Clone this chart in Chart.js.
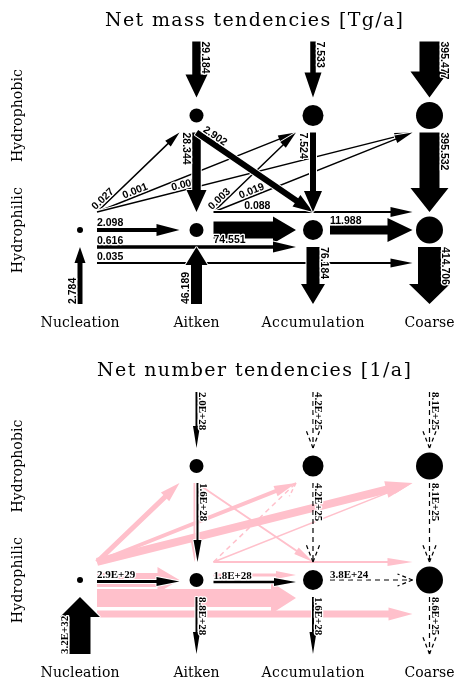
<!DOCTYPE html>
<html><head><meta charset="utf-8">
<script src="https://cdn.jsdelivr.net/npm/chart.js@4.4.1/dist/chart.umd.min.js"></script>
<style>html,body{margin:0;padding:0;background:#fff;overflow:hidden}canvas{display:block}</style>
</head><body>
<canvas id="c1" width="456" height="350" style="width:456px;height:350px"></canvas>
<canvas id="c2" width="456" height="328" style="width:456px;height:328px"></canvas>
<script>
// ---------- data ----------
const columns = ['Nucleation', 'Aitken', 'Accumulation', 'Coarse'];
const rowNames = ['Hydrophilic', 'Hydrophobic'];          // row index 0, 1
const nodeKeys = ['N0', 'K1', 'K0', 'A1', 'A0', 'C1', 'C0'];
const nodeCol  = [0, 1, 1, 2, 2, 3, 3];
const nodeRow  = [0, 1, 0, 1, 0, 1, 0];

const massTitle  = 'Net mass tendencies [Tg/a]';
const massFrom   = ['N0','N0','N0','K0','K0','K0','src','src','src','K1','K1','A1','C1','N0','K0','N0','N0','A0','srcB','srcB','A0','C0'];
const massTo     = ['K1','A1','C1','A1','C1','C0','K1','A1','C1','K0','A0','A0','C0','K0','A0','A0','C0','C0','N0','K0','sink','sink'];
const massValues = [0.027,0.001,0.000,0.003,0.019,0.088,29.184,7.533,395.477,28.344,2.902,7.524,395.532,2.098,74.551,0.616,0.035,11.988,2.784,46.189,76.184,414.706];

const numTitle  = 'Net number tendencies [1/a]';
const numFrom   = ['src','src','src','K1','A1','C1','N0','K0','A0','srcB','K0','A0','C0'];
const numTo     = ['K1','A1','C1','K0','A0','C0','K0','A0','C0','N0','sink','sink','sink'];
const numValues = [2.0e28,4.2e25,8.1e25,1.6e28,4.2e25,8.1e25,2.9e29,1.8e28,3.8e24,3.2e32,8.8e28,1.6e28,8.6e25];

// unlabelled (pink) number fluxes
const pinkFrom = ['N0','N0','N0','N0','N0','N0','K0','K0','K0','K1','K1','K0'];
const pinkTo   = ['A0','C0','K0','K1','A1','C1','A1','C1','C0','A0','K0','A0'];

// ---------- styles ----------
const nodeRadius = [3, 7, 7, 10.5, 10, 13.5, 13.5];
const PINK = '#FFC0CB';
const massStyle = [
  {w:1.5,hw:8,hl:16,t:0},{w:1.5,hw:8,hl:18,t:0.14},{w:1.5,hw:8,hl:18,t:0.24},
  {w:1.5,hw:8,hl:18,t:0},{w:1.5,hw:8,hl:18,t:0.14},{w:2,hw:10,hl:22,off:-18,t:0.154},
  {w:8.5,hw:22,hl:23},{w:5.5,hw:17,hl:25},{w:20,hw:38,hl:26},
  {w:8.5,hw:20,hl:22,side:'b'},{w:6,hw:14,hl:20,t:0.03},{w:6,hw:18,hl:21,side:'b'},{w:20,hw:38,hl:24},
  {w:4,hw:12,hl:23,off:0},{w:17,hw:27,hl:23,off:0,side:'b',gap:-4},{w:3.5,hw:11,hl:23,off:17},{w:2,hw:9,hl:22,off:33},
  {w:9,hw:24,hl:25,off:0},
  {w:5,hw:11,hl:16},{w:11,hw:22,hl:18},{w:13,hw:24,hl:20},{w:23,hw:41,hl:20}
];
const numStyle = [
  {w:2,hw:7,hl:22},{dash:true,hw:14,hl:18},{dash:true,hw:14,hl:18},
  {w:2,hw:8,hl:22,dx:1},{dash:true,hw:14,hl:18},{dash:true,hw:14,hl:18},
  {w:3,hw:9,hl:23,off:1.5},{w:2.5,hw:8,hl:22,off:2},{dash:true,hw:12,hl:15,off:0},
  {w:21,hw:40,hl:20},{w:2,hw:7,hl:22},{w:2,hw:7,hl:22},{dash:true,hw:14,hl:18}
];
const pinkStyle = [
  {w:18,hw:32,hl:25,off:18},{w:7,hw:13,hl:24,off:34},{w:14,hw:26,hl:22,off:0},
  {w:5,hw:12,hl:20},{w:4,hw:11,hl:22},{w:8,hw:17,hl:27},
  {dash:true,lw:1.5,hw:10,hl:14},{w:1.5,hw:7,hl:20},{w:2,hw:8,hl:25,off:-18},
  {w:2,hw:8,hl:20},{w:2,hw:7,hl:20,dx:-2},{w:3,hw:8,hl:20,off:-5}
];

// ---------- drawing helpers ----------
function nodePix(chart, key) {
  const i = nodeKeys.indexOf(key);
  return [chart.scales.x.getPixelForValue(nodeCol[i]), chart.scales.y.getPixelForValue(nodeRow[i])];
}
function endpoints(chart, from, to, st) {
  const off = st.off || 0, dx = st.dx || 0;
  if (from === 'src')  { const [x,y] = nodePix(chart,to);   return [x+dx, y-74, x+dx, y-18]; }
  if (from === 'srcB') { const [x,y] = nodePix(chart,to);   return [x+dx, y+74, x+dx, y+17]; }
  if (to === 'sink')   { const [x,y] = nodePix(chart,from); return [x+dx, y+17, x+dx, y+74]; }
  const [sx,sy] = nodePix(chart,from), [tx,ty] = nodePix(chart,to);
  const sr = nodeRow[nodeKeys.indexOf(from)], tr = nodeRow[nodeKeys.indexOf(to)];
  if (sr === 1 && tr === 0) return [sx+dx, sy+17, tx+dx, ty-18];
  if (sr === 0 && tr === 1) return [sx+17, sy-18, tx-17, ty+17];
  return [sx+17, sy+off, tx-17, ty+off];
}
function drawArrow(ctx, p, st, color, halo) {
  const [x0,y0,x1,y1] = p;
  const dxl = x1-x0, dyl = y1-y0, len = Math.hypot(dxl,dyl);
  const ux = dxl/len, uy = dyl/len, nx = -uy, ny = ux;
  const hl = Math.min(st.hl, len*0.7);
  const bx = x1-ux*hl, by = y1-uy*hl;
  ctx.save();
  if (st.dash) {
    ctx.strokeStyle = color; ctx.lineWidth = st.lw || 1.2;
    ctx.setLineDash([5,4]);
    ctx.beginPath(); ctx.moveTo(x0,y0); ctx.lineTo(x1,y1); ctx.stroke();
    const hw = st.hw/2;
    ctx.setLineDash([4,3]);
    ctx.beginPath(); ctx.moveTo(x1,y1); ctx.lineTo(bx+nx*hw, by+ny*hw); ctx.stroke();
    ctx.beginPath(); ctx.moveTo(x1,y1); ctx.lineTo(bx-nx*hw, by-ny*hw); ctx.stroke();
  } else {
    const w = st.w/2, hw = st.hw/2;
    ctx.beginPath();
    ctx.moveTo(x0+nx*w, y0+ny*w);
    ctx.lineTo(bx+nx*w, by+ny*w);
    ctx.lineTo(bx+nx*hw, by+ny*hw);
    ctx.lineTo(x1, y1);
    ctx.lineTo(bx-nx*hw, by-ny*hw);
    ctx.lineTo(bx-nx*w, by-ny*w);
    ctx.lineTo(x0-nx*w, y0-ny*w);
    ctx.closePath();
    if (halo) { ctx.strokeStyle = '#fff'; ctx.lineWidth = 2; ctx.lineJoin = 'bevel'; ctx.stroke(); }
    ctx.fillStyle = color; ctx.fill();
  }
  ctx.restore();
}
function drawLabel(ctx, p, st, text, font) {
  const [x0,y0,x1,y1] = p;
  const dxl = x1-x0, dyl = y1-y0, len = Math.hypot(dxl,dyl);
  const ux = dxl/len, uy = dyl/len, ang = Math.atan2(dyl,dxl);
  const above = (st.side || 'a') === 'a';
  const gap = (st.dash ? 0.6 : st.w/2) + (st.gap !== undefined ? st.gap : 1.5);
  const t = st.t || 0;
  const upx = Math.sin(ang), upy = -Math.cos(ang), s = above ? 1 : -1;
  ctx.save();
  ctx.translate(x0+ux*len*t + upx*gap*s, y0+uy*len*t + upy*gap*s);
  ctx.rotate(ang);
  ctx.font = font; ctx.textAlign = 'left';
  ctx.textBaseline = above ? 'alphabetic' : 'top';
  ctx.lineJoin = 'round'; ctx.lineWidth = 2.5; ctx.strokeStyle = '#fff';
  ctx.strokeText(text, 0, 0);
  ctx.fillStyle = '#000'; ctx.fillText(text, 0, 0);
  ctx.restore();
}
function fitText(ctx, text, x, y, font, width, rot) {
  ctx.save();
  ctx.font = font; ctx.letterSpacing = '0px';
  const m = ctx.measureText(text).width;
  const ls = (width - m) / (text.length - 1);
  ctx.letterSpacing = ls + 'px';
  ctx.translate(x + (rot ? 0 : ls/2), y + (rot ? ls/2 : 0));
  if (rot) ctx.rotate(rot);
  ctx.textAlign = 'center'; ctx.textBaseline = 'alphabetic'; ctx.fillStyle = '#000';
  ctx.fillText(text, 0, 0);
  ctx.restore();
}

function makePanel(canvasId, cfg) {
  const diagram = {
    id: 'diagram',
    beforeDatasetsDraw(chart) {
      const ctx = chart.ctx;
      const xs = chart.scales.x, ys = chart.scales.y;
      fitText(ctx, cfg.title, 254, 26, '19px "DejaVu Serif"', cfg.titleW);
      fitText(ctx, rowNames[1], 22, ys.getPixelForValue(1), '14px "DejaVu Serif"', 93, -Math.PI/2);
      fitText(ctx, rowNames[0], 22, ys.getPixelForValue(0), '14px "DejaVu Serif"', 86, -Math.PI/2);
      const colW = [79, 46, 103, 50];
      columns.forEach((c, i) => fitText(ctx, c, xs.getPixelForValue(i), ys.getPixelForValue(0) + 97,
        '14px "DejaVu Serif"', colW[i]));
      (cfg.pinkFrom || []).forEach((f, i) => {
        const st = cfg.pinkStyle[i];
        drawArrow(ctx, endpoints(chart, f, cfg.pinkTo[i], st), st, PINK, false);
      });
      cfg.from.forEach((f, i) => {
        const st = cfg.style[i];
        const p = endpoints(chart, f, cfg.to[i], st);
        drawArrow(ctx, p, st, '#000', true);
        drawLabel(ctx, p, st, cfg.fmt(cfg.values[i]), cfg.font);
      });
    }
  };
  return new Chart(document.getElementById(canvasId), {
    type: 'scatter',
    data: { datasets: [{
      data: nodeKeys.map((k, i) => ({ x: nodeCol[i], y: nodeRow[i] })),
      pointRadius: nodeRadius, pointHoverRadius: nodeRadius,
      backgroundColor: '#000', borderWidth: 0, clip: false
    }]},
    options: {
      responsive: false, animation: false, events: [], devicePixelRatio: 1,
      layout: { padding: 0, autoPadding: false },
      scales: {
        x: { type: 'linear', min: -0.6867, max: 3.2275, display: false },
        y: { type: 'linear', min: cfg.yMin, max: cfg.yMax, display: false }
      },
      plugins: { legend: { display: false }, tooltip: { enabled: false }, title: { display: false } }
    },
    plugins: [diagram]
  });
}

makePanel('c1', {
  title: massTitle, titleW: 298, yMin: -1.0481, yMax: 2.0087,
  from: massFrom, to: massTo, values: massValues, style: massStyle,
  fmt: v => v.toFixed(3), font: 'bold 10.5px "Liberation Sans"'
});
makePanel('c2', {
  title: numTitle, titleW: 314, yMin: -0.8597, yMax: 2.0175,
  from: numFrom, to: numTo, values: numValues, style: numStyle,
  pinkFrom: pinkFrom, pinkTo: pinkTo, pinkStyle: pinkStyle,
  fmt: v => v.toExponential(1).toUpperCase(), font: 'bold 11px "Liberation Serif"'
});
</script>
</body></html>
